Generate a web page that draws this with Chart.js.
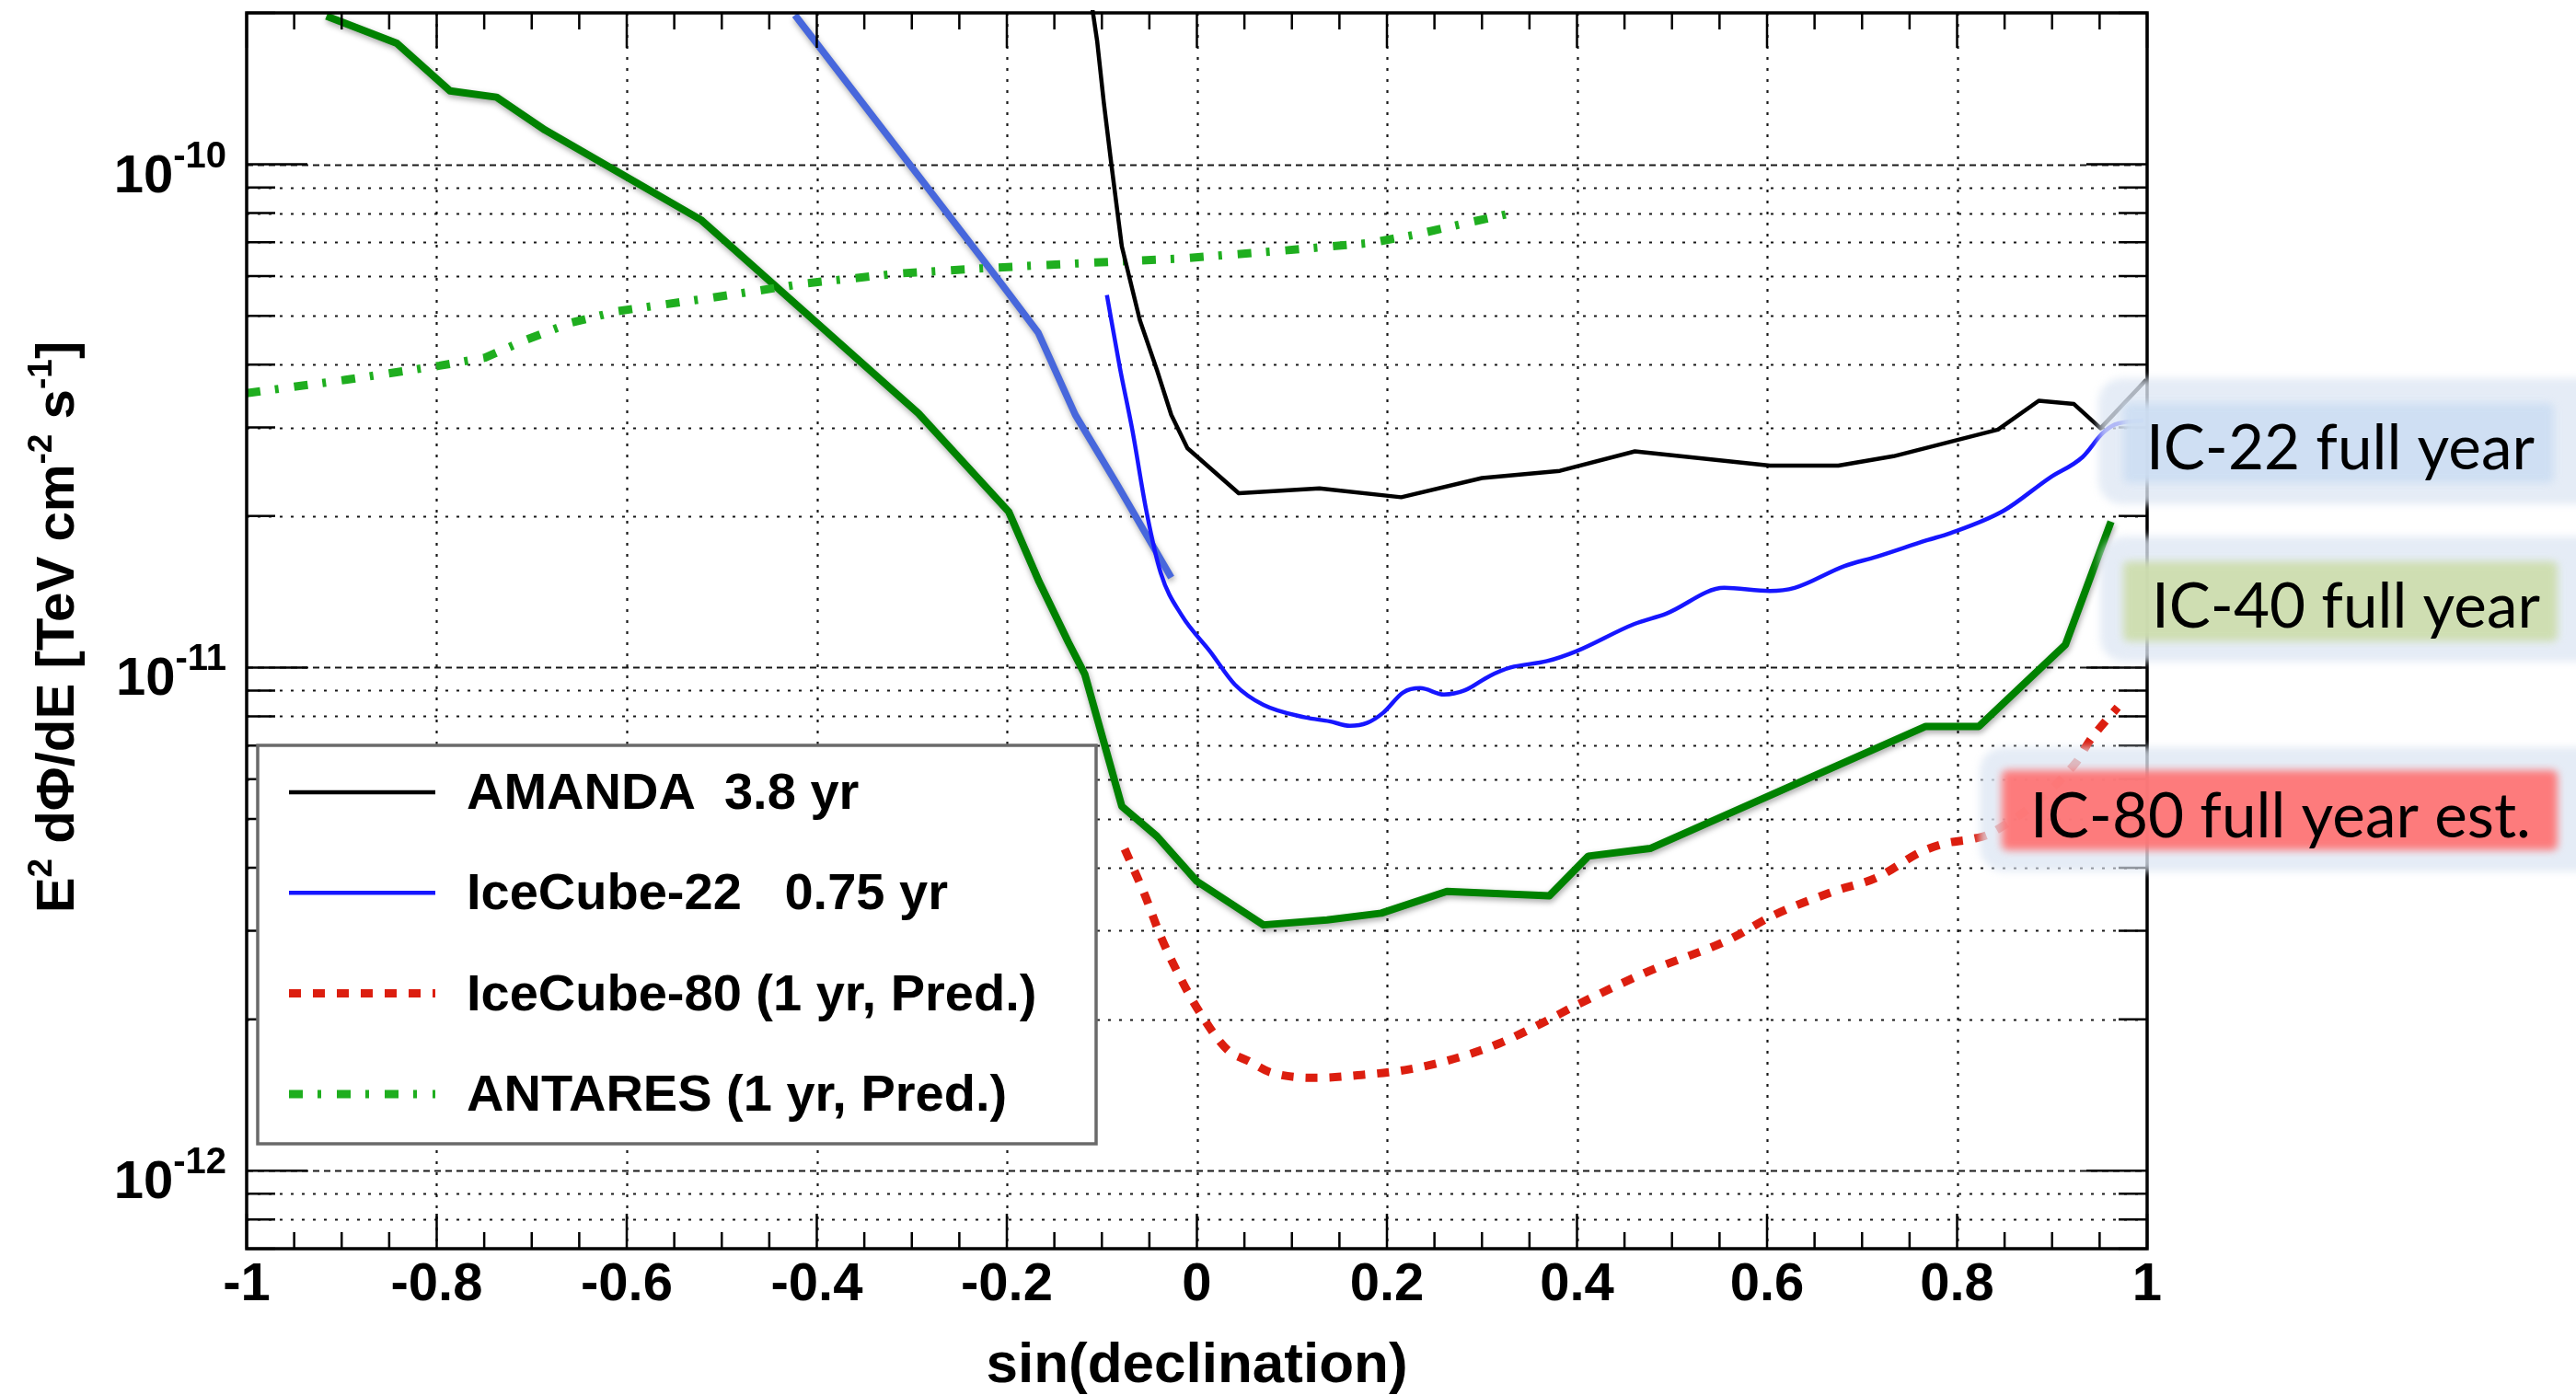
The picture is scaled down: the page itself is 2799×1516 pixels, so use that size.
<!DOCTYPE html>
<html>
<head>
<meta charset="utf-8">
<style>
  html, body { margin: 0; padding: 0; background: #ffffff; }
  #wrap { position: relative; width: 2799px; height: 1516px; }
  canvas { display: block; }
</style>
<script src="https://cdn.jsdelivr.net/npm/chart.js"></script>
</head>
<body>
<div id="wrap"><canvas id="chart" width="2799" height="1516"></canvas></div>
<script>
// ---------------- DATA ----------------
const amandaSinDec = [-0.111, -0.105, -0.098, -0.090, -0.079, -0.060, -0.042, -0.027, -0.010, 0.044, 0.129, 0.215, 0.300, 0.382, 0.461, 0.603, 0.675, 0.733, 0.843, 0.886, 0.923, 0.951, 0.999];
const amandaFlux   = [2.1e-10, 1.76e-10, 1.33e-10, 1.0e-10, 6.87e-11, 4.9e-11, 3.9e-11, 3.18e-11, 2.73e-11, 2.22e-11, 2.27e-11, 2.18e-11, 2.38e-11, 2.46e-11, 2.69e-11, 2.52e-11, 2.52e-11, 2.63e-11, 2.97e-11, 3.39e-11, 3.34e-11, 2.99e-11, 3.73e-11];

const ic22SinDec = [-0.0947, -0.081, -0.068, -0.053, -0.038, -0.016, 0.014, 0.040, 0.070, 0.114, 0.1395, 0.161, 0.179, 0.196, 0.217, 0.235, 0.260, 0.282, 0.308, 0.330, 0.3685, 0.399, 0.460, 0.494, 0.555, 0.603, 0.629, 0.681, 0.715, 0.768, 0.793, 0.849, 0.897, 0.932, 0.953, 0.966, 0.996];
const ic22Flux   = [5.5e-11, 3.94e-11, 2.97e-11, 2.04e-11, 1.54e-11, 1.27e-11, 1.076e-11, 9.25e-12, 8.43e-12, 7.96e-12, 7.82e-12, 7.66e-12, 7.76e-12, 8.13e-12, 8.92e-12, 9.1e-12, 8.84e-12, 9.01e-12, 9.62e-12, 1.0e-11, 1.03e-11, 1.077e-11, 1.22e-11, 1.28e-11, 1.44e-11, 1.42e-11, 1.44e-11, 1.59e-11, 1.66e-11, 1.79e-11, 1.85e-11, 2.05e-11, 2.38e-11, 2.62e-11, 2.92e-11, 3.04e-11, 3.1e-11];

const ic80SinDec = [-0.076, -0.055, -0.038, -0.018, 0.004, 0.032, 0.055, 0.077, 0.125, 0.173, 0.223, 0.271, 0.318, 0.362, 0.403, 0.473, 0.560, 0.607, 0.672, 0.715, 0.763, 0.789, 0.815, 0.836, 0.925, 0.939, 0.969];
const ic80Flux   = [4.36e-12, 3.54e-12, 2.92e-12, 2.43e-12, 2.05e-12, 1.74e-12, 1.65e-12, 1.57e-12, 1.53e-12, 1.55e-12, 1.59e-12, 1.67e-12, 1.79e-12, 1.96e-12, 2.15e-12, 2.48e-12, 2.88e-12, 3.22e-12, 3.60e-12, 3.82e-12, 4.31e-12, 4.48e-12, 4.56e-12, 4.69e-12, 6.47e-12, 7.13e-12, 8.34e-12];

const antaresSinDec = [-1.0, -0.896, -0.797, -0.749, -0.706, -0.658, -0.609, -0.511, -0.412, -0.314, -0.215, -0.116, -0.016, 0.083, 0.183, 0.230, 0.280, 0.330];
const antaresFlux   = [3.51e-11, 3.73e-11, 3.98e-11, 4.13e-11, 4.48e-11, 4.85e-11, 5.11e-11, 5.43e-11, 5.80e-11, 6.07e-11, 6.23e-11, 6.37e-11, 6.50e-11, 6.72e-11, 6.98e-11, 7.25e-11, 7.62e-11, 7.99e-11];

const ic40SinDec = [-0.916, -0.842, -0.786, -0.737, -0.686, -0.522, -0.293, -0.198, -0.166, -0.135, -0.118, -0.079, -0.042, 0.0, 0.070, 0.137, 0.194, 0.263, 0.371, 0.412, 0.477, 0.767, 0.823, 0.914, 0.962];
const ic40Flux   = [1.97e-10, 1.74e-10, 1.40e-10, 1.36e-10, 1.17e-10, 7.76e-11, 3.2e-11, 2.04e-11, 1.48e-11, 1.12e-11, 9.7e-12, 5.3e-12, 4.62e-12, 3.76e-12, 3.08e-12, 3.15e-12, 3.25e-12, 3.59e-12, 3.52e-12, 4.22e-12, 4.37e-12, 7.64e-12, 7.64e-12, 1.11e-11, 1.95e-11];

const ic22FullSinDec = [-0.423, -0.206, -0.167, -0.128, -0.085, -0.027];
const ic22FullFlux   = [1.98e-10, 5.80e-11, 4.63e-11, 3.18e-11, 2.33e-11, 1.51e-11];

const seriesLabels = ['AMANDA  3.8 yr', 'IceCube-22   0.75 yr', 'IceCube-80 (1 yr, Pred.)', 'ANTARES (1 yr, Pred.)'];
const calloutTexts = ['IC-22 full year', 'IC-40 full year', 'IC-80 full year est.'];

const xTickValues = [-1, -0.8, -0.6, -0.4, -0.2, 0, 0.2, 0.4, 0.6, 0.8, 1];
const yDecadeValues = [1e-12, 1e-11, 1e-10];
const yDecadeExponents = ['-12', '-11', '-10'];
const xAxisTitle = 'sin(declination)';

// ---------------- helpers / styling ----------------
const ROOT_FONT = '"Liberation Sans", Arial, Helvetica, sans-serif';
const CALLOUT_FONT = 'Lato, "Open Sans", sans-serif';
const zip = (xs, ys) => xs.map((v, i) => ({ x: v, y: ys[i] }));

const X_MIN = -1, X_MAX = 1, Y_MIN = 7e-13, Y_MAX = 2e-10;

// grid + ROOT-style frame with inward ticks
const rootFrame = {
  id: 'rootFrame',
  beforeDatasetsDraw(chart) {
    const { ctx, chartArea: a, scales: { x, y } } = chart;
    ctx.save();
    ctx.beginPath();
    ctx.rect(a.left, a.top, a.right - a.left, a.bottom - a.top);
    ctx.clip();
    ctx.strokeStyle = 'rgba(0,0,0,0.9)';
    ctx.lineWidth = 2.2;
    // vertical grid
    ctx.setLineDash([3, 9]);
    xTickValues.forEach(v => {
      if (v <= X_MIN || v >= X_MAX) return;
      const px = Math.round(x.getPixelForValue(v)) + 0.5;
      ctx.beginPath(); ctx.moveTo(px, a.top); ctx.lineTo(px, a.bottom); ctx.stroke();
    });
    // horizontal grid at every mantissa
    for (let d = -13; d <= -10; d++) {
      for (let m = 1; m <= 9; m++) {
        const v = m * Math.pow(10, d);
        if (v <= Y_MIN * 1.0001 || v >= Y_MAX * 0.9999) continue;
        const py = Math.round(y.getPixelForValue(v)) + 0.5;
        ctx.setLineDash(m === 1 ? [7, 5] : [3, 9]);
        ctx.beginPath(); ctx.moveTo(a.left, py); ctx.lineTo(a.right, py); ctx.stroke();
      }
    }
    ctx.restore();
  },
  beforeDatasetDraw(chart, args) {
    const ds = chart.data.datasets[args.index];
    if (ds.shadow) {
      const ctx = chart.ctx;
      ctx.save();
      ctx.shadowColor = 'rgba(0,0,0,0.35)';
      ctx.shadowBlur = 6;
      ctx.shadowOffsetX = 1;
      ctx.shadowOffsetY = 3;
    }
  },
  afterDatasetDraw(chart, args) {
    const ds = chart.data.datasets[args.index];
    if (ds.shadow) chart.ctx.restore();
  },
  afterDatasetsDraw(chart) {
    const { ctx, chartArea: a, scales: { x, y } } = chart;
    ctx.save();
    ctx.strokeStyle = '#000';
    ctx.setLineDash([]);
    ctx.lineWidth = 2.5;
    // x ticks (bottom & top), every 0.05
    for (let i = -20; i <= 20; i++) {
      const v = i * 0.05;
      const px = x.getPixelForValue(v);
      const len = (i % 4 === 0) ? 38 : 18;
      ctx.beginPath();
      ctx.moveTo(px, a.bottom); ctx.lineTo(px, a.bottom - len);
      ctx.moveTo(px, a.top); ctx.lineTo(px, a.top + len);
      ctx.stroke();
    }
    // y ticks (left & right)
    for (let d = -13; d <= -10; d++) {
      for (let m = 1; m <= 9; m++) {
        const v = m * Math.pow(10, d);
        if (v < Y_MIN * 0.9999 || v > Y_MAX * 1.0001) continue;
        const py = y.getPixelForValue(v);
        const len = m === 1 ? 66 : 31;
        ctx.beginPath();
        ctx.moveTo(a.left, py); ctx.lineTo(a.left + len, py);
        ctx.moveTo(a.right, py); ctx.lineTo(a.right - len, py);
        ctx.stroke();
      }
    }
    // frame
    ctx.lineWidth = 3.5;
    ctx.strokeRect(a.left, a.top, a.right - a.left, a.bottom - a.top);
    ctx.restore();

    // ---------- legend box ----------
    const lg = { left: 280, top: 810, right: 1191, bottom: 1243 };
    ctx.save();
    ctx.fillStyle = '#ffffff';
    ctx.fillRect(lg.left, lg.top, lg.right - lg.left, lg.bottom - lg.top);
    ctx.strokeStyle = '#6a6a6a';
    ctx.lineWidth = 3.5;
    ctx.strokeRect(lg.left, lg.top, lg.right - lg.left, lg.bottom - lg.top);
    ctx.font = `bold 56px ${ROOT_FONT}`;
    ctx.textBaseline = 'alphabetic';
    ctx.textAlign = 'left';
    ctx.fillStyle = '#000';
    seriesLabels.forEach((lab, i) => {
      const ds = chart.data.datasets[i];
      const ly = 861 + i * 109.3;
      ctx.save();
      ctx.strokeStyle = ds.borderColor;
      ctx.lineWidth = ds.borderWidth;
      ctx.setLineDash(ds.borderDash || []);
      ctx.beginPath(); ctx.moveTo(314, ly); ctx.lineTo(473, ly); ctx.stroke();
      ctx.restore();
      ctx.fillText(lab, 507, ly + 18);
    });
    ctx.restore();
  },
  afterDraw(chart) {
    const { ctx, chartArea: a, scales: { y } } = chart;
    // ---------- y tick labels with superscripts ----------
    ctx.save();
    ctx.fillStyle = '#000';
    ctx.textAlign = 'left';
    ctx.textBaseline = 'alphabetic';
    const baseF = `bold 58px ${ROOT_FONT}`, supF = `bold 40px ${ROOT_FONT}`;
    yDecadeValues.forEach((v, i) => {
      const py = y.getPixelForValue(v);
      const right = a.left - 22;
      ctx.font = supF; const ws = ctx.measureText(yDecadeExponents[i]).width;
      ctx.font = baseF; const wb = ctx.measureText('10').width;
      ctx.font = baseF; ctx.fillText('10', right - ws - wb, py + 30);
      ctx.font = supF; ctx.fillText(yDecadeExponents[i], right - ws, py + 3);
    });
    ctx.restore();

    // ---------- y axis title (rotated, with superscripts) ----------
    const segs = [
      { t: 'E' }, { t: '2', sup: true }, { t: ' d\u03A6/dE [TeV cm' }, { t: '-2', sup: true },
      { t: ' s' }, { t: '-1', sup: true }, { t: ']' }
    ];
    const targetLen = 622;
    let fs = 58;
    const measure = (size) => {
      let w = 0;
      segs.forEach(s => {
        ctx.font = `bold ${s.sup ? Math.round(size * 0.64) : size}px ${ROOT_FONT}`;
        w += ctx.measureText(s.t).width;
      });
      return w;
    };
    ctx.save();
    fs = fs * targetLen / measure(fs);
    const total = measure(fs);
    ctx.translate(80, (a.top + a.bottom) / 2 - 4);
    ctx.rotate(-Math.PI / 2);
    ctx.fillStyle = '#000';
    ctx.textBaseline = 'alphabetic';
    ctx.textAlign = 'left';
    let cx = -total / 2;
    segs.forEach(s => {
      const size = s.sup ? Math.round(fs * 0.64) : fs;
      ctx.font = `bold ${size}px ${ROOT_FONT}`;
      ctx.fillText(s.t, cx, s.sup ? -fs * 0.42 : 0);
      cx += ctx.measureText(s.t).width;
    });
    ctx.restore();

    // ---------- call-out boxes on the right ----------
    const callouts = [
      { outer: [2280, 411, 560, 137], inner: [2307, 438, 468, 87], fill: 'rgb(205,222,243)', tx: 2332, ty: 510 },
      { outer: [2282, 583, 560, 136], inner: [2307, 610, 472, 87], fill: 'rgb(205,221,172)', tx: 2338, ty: 682 },
      { outer: [2151, 812, 690, 135], inner: [2175, 837, 604, 87], fill: 'rgb(255,114,114)', tx: 2206, ty: 910 }
    ];
    const soft = (r, color, blur, alpha, rad) => {
      ctx.save();
      ctx.globalAlpha = alpha;
      ctx.filter = `blur(${blur}px)`;
      ctx.fillStyle = color;
      ctx.beginPath();
      ctx.roundRect(r[0], r[1], r[2], r[3], rad);
      ctx.fill();
      ctx.restore();
    };
    ctx.save();
    ctx.font = `66px ${CALLOUT_FONT}`;
    const w80 = ctx.measureText(calloutTexts[2]).width;
    const cfs = 66 * 544 / w80;
    ctx.restore();
    callouts.forEach((c, i) => {
      soft(c.outer, 'rgb(222,231,243)', 4, 0.78, 26);
      soft(c.inner, c.fill, 4, 0.92, 6);
      ctx.save();
      ctx.font = `${cfs}px ${CALLOUT_FONT}`;
      ctx.fillStyle = '#000';
      ctx.textAlign = 'left';
      ctx.textBaseline = 'alphabetic';
      ctx.fillText(calloutTexts[i], c.tx, c.ty);
      ctx.restore();
    });
  }
};

const ctx = document.getElementById('chart').getContext('2d');
new Chart(ctx, {
  type: 'line',
  data: {
    datasets: [
      { label: seriesLabels[0], data: zip(amandaSinDec, amandaFlux), borderColor: '#000000', borderWidth: 4.5, tension: 0 },
      { label: seriesLabels[1], data: zip(ic22SinDec, ic22Flux), borderColor: '#1616ff', borderWidth: 4.5, cubicInterpolationMode: 'monotone' },
      { label: seriesLabels[2], data: zip(ic80SinDec, ic80Flux), borderColor: '#dc1e0f', borderWidth: 9, borderDash: [13, 13], borderCapStyle: 'butt', cubicInterpolationMode: 'monotone' },
      { label: seriesLabels[3], data: zip(antaresSinDec, antaresFlux), borderColor: '#1fae1f', borderWidth: 9, borderDash: [15, 16, 4, 17], borderCapStyle: 'butt', tension: 0 },
      { label: 'IC-40', data: zip(ic40SinDec, ic40Flux), borderColor: '#008200', borderWidth: 8, tension: 0, shadow: true },
      { label: 'IC-22 full', data: zip(ic22FullSinDec, ic22FullFlux), borderColor: '#4767dc', borderWidth: 7.5, tension: 0, shadow: true }
    ].map(d => Object.assign({ pointRadius: 0, pointHoverRadius: 0, fill: false, clip: 3, borderJoinStyle: 'round' }, d))
  },
  options: {
    responsive: false,
    animation: false,
    devicePixelRatio: 1,
    events: [],
    layout: { padding: { left: 268, right: 466, top: 14, bottom: 0 } },
    scales: {
      x: {
        type: 'linear', min: X_MIN, max: X_MAX,
        grid: { display: false, drawTicks: false },
        border: { display: false },
        ticks: {
          stepSize: 0.2, autoSkip: false, maxRotation: 0, padding: 5,
          color: '#000', font: { family: ROOT_FONT, size: 58, weight: 'bold' },
          callback: (v) => String(Number(Number(v).toFixed(1)))
        },
        title: {
          display: true, text: xAxisTitle, color: '#000',
          font: { family: ROOT_FONT, size: 62, weight: 'bold', lineHeight: 1 },
          padding: { top: 0, bottom: 0 }
        },
        afterFit(scale) { scale.height = 159; }
      },
      y: { type: 'logarithmic', min: Y_MIN, max: Y_MAX, display: false }
    },
    plugins: { legend: { display: false }, tooltip: { enabled: false } }
  },
  plugins: [rootFrame]
});
</script>
</body>
</html>
